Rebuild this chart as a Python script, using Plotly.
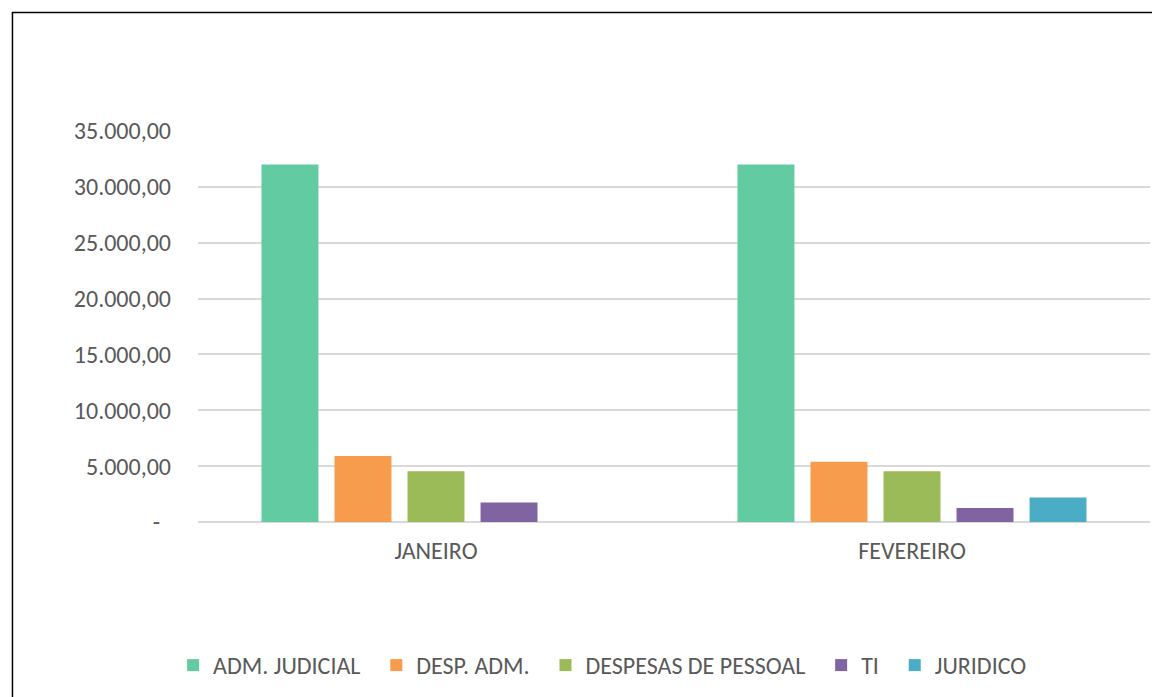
import plotly.graph_objects as go

categories = ["JANEIRO", "FEVEREIRO"]
series_names = ["ADM. JUDICIAL", "DESP. ADM.", "DESPESAS DE PESSOAL", "TI", "JURIDICO"]
adm_judicial = [32000, 32000]
desp_adm = [5900, 5400]
despesas_pessoal = [4550, 4550]
ti = [1750, 1250]
juridico = [None, 2200]
colors = ["#62CBA1", "#F79B4C", "#9BBB59", "#8064A2", "#4BACC6"]

tick_vals = [0, 5000, 10000, 15000, 20000, 25000, 30000, 35000]
tick_text = ["-\u00a0\u00a0", "5.000,00", "10.000,00", "15.000,00", "20.000,00",
             "25.000,00", "30.000,00", "35.000,00"]

series_values = [adm_judicial, desp_adm, despesas_pessoal, ti, juridico]

FONT = "Carlito, Lato, sans-serif"
GREY = "#595959"
PAD = "\u00a0\u00a0"

fig = go.Figure()
for i, (name, vals, col) in enumerate(zip(series_names, series_values, colors)):
    label = name + (PAD if i < len(series_names) - 1 else "")
    fig.add_trace(go.Bar(x=categories, y=vals, name=label, marker_color=col,
                         marker_line_width=0))

bx = -0.1949
ty = 1.3033
fig.update_layout(
    width=1152, height=689,
    paper_bgcolor="white", plot_bgcolor="white",
    margin=dict(l=190, r=10, t=123, b=175, autoexpand=False),
    barmode="group", bargap=0.233, bargroupgap=0.22,
    font=dict(family=FONT, color=GREY, size=24),
    showlegend=True,
    legend=dict(orientation="h", x=0.425, xanchor="center", y=-0.367, yanchor="middle",
                font=dict(family=FONT, size=24, color=GREY), itemclick=False),
    xaxis=dict(showgrid=False, showline=False, zeroline=False, ticks="",
               tickfont=dict(family=FONT, size=24, color=GREY), ticklabelstandoff=12),
    yaxis=dict(range=[0, 35000], tickvals=tick_vals, ticktext=tick_text,
               showgrid=True, gridcolor="#D9D9D9", gridwidth=1.5,
               zeroline=True, zerolinecolor="#D9D9D9", zerolinewidth=1.5,
               showline=False, ticks="",
               tickfont=dict(family=FONT, size=24, color=GREY), ticklabelstandoff=26),
    shapes=[
        dict(type="path", xref="paper", yref="paper",
             path=f"M {bx},-1 L {bx},{ty} L 1.2,{ty}",
             line=dict(color="black", width=1.5), fillcolor="rgba(0,0,0,0)",
             layer="below"),
    ],
)

fig.write_html("out.html")
